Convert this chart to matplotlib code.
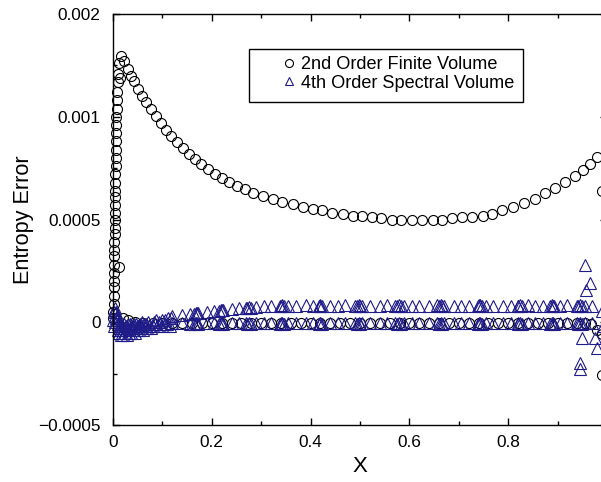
import matplotlib
matplotlib.use('Agg')
import matplotlib.pyplot as plt
import matplotlib.patches as patches
from matplotlib.ticker import MultipleLocator, FixedLocator, FixedFormatter

plt.rcParams['font.family'] = ['Liberation Sans', 'DejaVu Sans']

# 2nd order finite volume: column at x~0, main curve, row near zero, edge points
fv_col_x = [0.001, 0.001, 0.002, 0.002, 0.002, 0.002, 0.003, 0.003, 0.003, 0.003, 0.003,
            0.004, 0.004, 0.004, 0.004, 0.004, 0.005, 0.005, 0.005, 0.005, 0.006, 0.006,
            0.006, 0.006, 0.007, 0.007, 0.007, 0.008, 0.008, 0.009, 0.010, 0.011, 0.013,
            0.015, 0.013]
fv_col_y = [0.00002, 0.00005, 0.00009, 0.00013, 0.00017, 0.00020, 0.00024, 0.00028, 0.00032,
            0.00035, 0.00039, 0.00043, 0.00046, 0.00050, 0.00053, 0.00057, 0.00061, 0.00064,
            0.00068, 0.00072, 0.00076, 0.00080, 0.00084, 0.00088, 0.00092, 0.00096, 0.00100,
            0.00104, 0.00108, 0.00112, 0.00117, 0.00121, 0.00126, 0.00119, 0.00027]

fv_x = [0.016, 0.022, 0.030, 0.036, 0.042, 0.051, 0.059, 0.067, 0.077, 0.087, 0.097, 0.107,
        0.117, 0.129, 0.141, 0.154, 0.166, 0.178, 0.192, 0.206, 0.220, 0.234, 0.251, 0.267,
        0.283, 0.303, 0.323, 0.343, 0.364, 0.384, 0.404, 0.424, 0.444, 0.465, 0.485, 0.505,
        0.525, 0.543, 0.564, 0.584, 0.606, 0.626, 0.647, 0.667, 0.687, 0.707, 0.727, 0.748,
        0.768, 0.788, 0.810, 0.832, 0.855, 0.875, 0.895, 0.915, 0.935, 0.952, 0.966, 0.980]
fv_y = [0.001296, 0.001272, 0.001233, 0.001199, 0.001175, 0.001136, 0.001102, 0.001073,
        0.001039, 0.001005, 0.000971, 0.000937, 0.000908, 0.000879, 0.000849, 0.000820,
        0.000796, 0.000772, 0.000748, 0.000723, 0.000704, 0.000684, 0.000665, 0.000646,
        0.000631, 0.000616, 0.000602, 0.000587, 0.000573, 0.000563, 0.000553, 0.000544,
        0.000534, 0.000529, 0.000519, 0.000515, 0.000510, 0.000505, 0.000500, 0.000500,
        0.000500, 0.000500, 0.000500, 0.000500, 0.000505, 0.000510, 0.000510, 0.000519,
        0.000529, 0.000544, 0.000563, 0.000578, 0.000602, 0.000631, 0.000655, 0.000684,
        0.000714, 0.000743, 0.000772, 0.000806]

fv0_x = [0.02, 0.03, 0.045, 0.06, 0.08, 0.10, 0.12, 0.14, 0.16, 0.18, 0.20, 0.22, 0.24, 0.26,
         0.28, 0.30, 0.32, 0.34, 0.36, 0.38, 0.40, 0.42, 0.44, 0.46, 0.48, 0.50, 0.52, 0.54,
         0.56, 0.58, 0.60, 0.62, 0.64, 0.66, 0.68, 0.70, 0.72, 0.74, 0.76, 0.78, 0.80, 0.82,
         0.84, 0.86, 0.88, 0.90, 0.92, 0.94, 0.955, 0.967, 0.980, 0.990, 0.990, 0.990]
fv0_y = [0.00002, 0.00001, 0.0, -0.000005, -0.000003, -0.000006, -0.000004, -0.000005,
         -0.000003, -0.000006, -0.000004, -0.000005, -0.000006, -0.000004, -0.000005,
         -0.000003, -0.000006, -0.000005, -0.000004, -0.000006, -0.000005, -0.000004,
         -0.000006, -0.000005, -0.000003, -0.000005, -0.000006, -0.000004, -0.000005,
         -0.000006, -0.000004, -0.000005, -0.000003, -0.000006, -0.000005, -0.000004,
         -0.000006, -0.000005, -0.000004, -0.000005, -0.000006, -0.000004, -0.000005,
         -0.000003, -0.000006, -0.000005, -0.000004, -0.000005, -0.000006, -0.000010,
         -0.000039, 0.00064, -0.000055, -0.000257]

# 4th order spectral volume
sv_hi_x = [0.12, 0.14, 0.155, 0.17, 0.19, 0.205, 0.22, 0.24, 0.255, 0.27, 0.29, 0.305, 0.32,
           0.34, 0.355, 0.37, 0.39, 0.405, 0.42, 0.44, 0.455, 0.47, 0.49, 0.505, 0.52, 0.54,
           0.555, 0.57, 0.59, 0.605, 0.62, 0.64, 0.655, 0.67, 0.69, 0.705, 0.72, 0.74, 0.755,
           0.77, 0.79, 0.805, 0.82, 0.84, 0.855, 0.87, 0.89, 0.905, 0.92, 0.94, 0.955, 0.97]
sv_hi_y = [0.000030, 0.000035, 0.000040, 0.000045, 0.000050, 0.000055, 0.000060, 0.000064,
           0.000068, 0.000071, 0.000074, 0.000077, 0.000079,
           0.000080, 0.000081, 0.000080, 0.000082, 0.000080, 0.000081, 0.000080, 0.000081,
           0.000082, 0.000080, 0.000081, 0.000080, 0.000081, 0.000082, 0.000080, 0.000081,
           0.000080, 0.000081, 0.000080, 0.000082, 0.000081, 0.000080, 0.000081, 0.000080,
           0.000082, 0.000081, 0.000080, 0.000081, 0.000080, 0.000081, 0.000082, 0.000080,
           0.000081, 0.000080, 0.000081, 0.000082, 0.000080, 0.000081, 0.000080]

sv_lo_x = [0.105, 0.12, 0.14, 0.155, 0.17, 0.19, 0.205, 0.22, 0.24, 0.255, 0.27, 0.29, 0.305,
           0.32, 0.34, 0.355, 0.37, 0.39, 0.405, 0.42, 0.44, 0.455, 0.47, 0.49, 0.505, 0.52,
           0.54, 0.555, 0.57, 0.59, 0.605, 0.62, 0.64, 0.655, 0.67, 0.69, 0.705, 0.72, 0.74,
           0.755, 0.77, 0.79, 0.805, 0.82, 0.84, 0.855, 0.87, 0.89, 0.905, 0.92, 0.94, 0.955,
           0.97]
sv_lo_y = [-0.000008, -0.000006, -0.000004, -0.000007, -0.000003, -0.000005, -0.000002,
           -0.000006, -0.000004, -0.000003, -0.000005, -0.000002, -0.000004, -0.000006,
           -0.000003, -0.000005, -0.000002, -0.000004, -0.000006, -0.000003, -0.000005,
           -0.000002, -0.000004, -0.000006, -0.000003, -0.000005, -0.000002, -0.000004,
           -0.000006, -0.000003, -0.000005, -0.000002, -0.000004, -0.000006, -0.000003,
           -0.000005, -0.000002, -0.000004, -0.000006, -0.000003, -0.000005, -0.000002,
           -0.000004, -0.000006, -0.000003, -0.000005, -0.000002, -0.000004, -0.000006,
           -0.000003, -0.000005, -0.000002, -0.000004]

# overlapping clusters along both rows
sv_cl_x = [0.164, 0.168, 0.172, 0.214, 0.218, 0.222, 0.271, 0.275, 0.279, 0.339, 0.343, 0.347,
           0.416, 0.420, 0.424, 0.493, 0.497, 0.501, 0.574, 0.578, 0.582, 0.659, 0.663, 0.667,
           0.739, 0.743, 0.747, 0.820, 0.824, 0.828, 0.885, 0.889, 0.893, 0.941, 0.945, 0.949]
sv_clhi_y = [0.000042, 0.000047, 0.000043, 0.000057, 0.000062, 0.000058, 0.000069, 0.000074,
             0.000070, 0.000077, 0.000082, 0.000078, 0.000078, 0.000083, 0.000079, 0.000078,
             0.000083, 0.000079, 0.000078, 0.000083, 0.000079, 0.000078, 0.000083, 0.000079,
             0.000078, 0.000083, 0.000079, 0.000078, 0.000083, 0.000079, 0.000078, 0.000083,
             0.000079, 0.000078, 0.000083, 0.000079]
sv_cllo_y = [-0.000008, -0.000003, -0.000007, -0.000008, -0.000003, -0.000007, -0.000008,
             -0.000003, -0.000007, -0.000008, -0.000003, -0.000007, -0.000008, -0.000003,
             -0.000007, -0.000008, -0.000003, -0.000007, -0.000008, -0.000003, -0.000007,
             -0.000008, -0.000003, -0.000007, -0.000008, -0.000003, -0.000007, -0.000008,
             -0.000003, -0.000007, -0.000008, -0.000003, -0.000007, -0.000008, -0.000003,
             -0.000007]

# near x = 0 and near x = 1
sv_left_x = [0.000, 0.002, 0.004, 0.006, 0.008, 0.010,
             0.003, 0.005, 0.007, 0.009, 0.011, 0.013,
             0.012, 0.016, 0.020, 0.024, 0.028, 0.032, 0.036, 0.040, 0.044, 0.048, 0.052,
             0.056, 0.060, 0.064, 0.068, 0.072, 0.076,
             0.014, 0.018, 0.022, 0.026, 0.030, 0.034, 0.038, 0.042, 0.046, 0.050, 0.054,
             0.058, 0.062, 0.066, 0.070,
             0.080, 0.085, 0.090, 0.095, 0.100, 0.105, 0.110, 0.115,
             0.082, 0.088, 0.094, 0.100, 0.106, 0.112, 0.118,
             0.010, 0.015, 0.019, 0.023, 0.027, 0.031, 0.035, 0.039, 0.043, 0.047, 0.051,
             0.055, 0.059]
sv_left_y = [0.00001, 0.00005, 0.00007, 0.00005, 0.00003, 0.00002,
             -0.00002, 0.0, 0.00002, 0.00001, -0.00001, -0.00003,
             -0.00005, -0.00006, -0.00006, -0.00005, -0.00006, -0.00005, -0.00005, -0.00004,
             -0.00005, -0.00004, -0.00004, -0.00003, -0.00004, -0.00003, -0.00003, -0.00002,
             -0.00003,
             -0.00001, -0.00002, -0.00001, -0.00002, -0.00001, -0.00001, -0.00002, -0.00001,
             -0.00001, -0.00002, -0.00001, 0.0, -0.00001, -0.00001, 0.0,
             -0.00002, -0.00001, -0.00002, -0.00001, -0.00002, -0.00001, -0.00001, -0.00002,
             0.0, 0.00001, 0.0, 0.00001, 0.00001, 0.00002, 0.00002,
             -0.00004, -0.00003, -0.00004, -0.00003, -0.00004, -0.00003, -0.00003, -0.00003,
             -0.00002, -0.00003, -0.00002, -0.00002, -0.00002]
sv_right_x = [0.956, 0.966, 0.958, 0.990, 0.949, 0.976, 0.980, 0.945, 0.945, 0.992]
sv_right_y = [0.000277, 0.000189, 0.000155, 0.000055, -0.000078, -0.000078, -0.000126,
              -0.000199, -0.000228, -0.00002]

yticks = [-0.0005, 0, 0.0005, 0.001, 0.0015]
ytick_labels = ['\u22120.0005', '0', '0.0005', '0.001', '0.002']
xticks = [0, 0.2, 0.4, 0.6, 0.8, 1.0]
xtick_labels = ['0', '0.2', '0.4', '0.6', '0.8', '']

navy = '#1f1b88'

fig = plt.figure(figsize=(6.01, 4.82), dpi=100)
# right spine sits just past the image edge, as in the source
ax = fig.add_axes([113/601, (482-425)/482, 494/601, 411/482])

ax.plot(fv_col_x + fv_x + fv0_x, fv_col_y + fv_y + fv0_y, 'o', ms=7.2, mfc='none',
        mec='black', mew=0.8, label='2nd Order Finite Volume', clip_on=False)
ax.plot(sv_left_x + sv_lo_x + sv_hi_x + sv_cl_x + sv_cl_x + sv_right_x,
        sv_left_y + sv_lo_y + sv_hi_y + sv_clhi_y + sv_cllo_y + sv_right_y,
        '^', ms=8, mfc='none', mec=navy, mew=0.8, label='4th Order Spectral Volume',
        clip_on=False)

ax.set_xlim(0, 1)
ax.set_ylim(-0.0005, 0.0015)
ax.xaxis.set_major_locator(FixedLocator(xticks))
ax.xaxis.set_major_formatter(FixedFormatter(xtick_labels))
ax.xaxis.set_minor_locator(MultipleLocator(0.1))
ax.yaxis.set_major_locator(FixedLocator(yticks))
ax.yaxis.set_major_formatter(FixedFormatter(ytick_labels))
ax.yaxis.set_minor_locator(MultipleLocator(0.00025))
ax.tick_params(which='both', direction='in', top=True, right=True, width=1.0,
               labelsize=12.4)
ax.tick_params(which='major', length=5)
ax.tick_params(which='minor', length=3)
ax.tick_params(axis='y', pad=9)
ax.tick_params(axis='x', pad=7)
for s in ax.spines.values():
    s.set_linewidth(1.0)

ax.set_xlabel('X', fontsize=16)
ax.set_ylabel('Entropy Error', fontsize=15.6)
ax.xaxis.set_label_coords(0.5, -0.075)
ax.yaxis.set_label_coords(-0.16, 0.5)

# legend box
frame = patches.Rectangle((249/601, (482-102)/482), 274/601, 53/482, transform=fig.transFigure,
                          facecolor='white', edgecolor='black', lw=1.0, zorder=5,
                          clip_on=False)
ax.add_patch(frame)
leg = ax.legend(loc='upper left', bbox_to_anchor=(284/601, (482-56)/482),
                bbox_transform=fig.transFigure, frameon=False, fontsize=13.1,
                handlelength=0.6, handletextpad=0.35, borderpad=0, borderaxespad=0,
                labelspacing=0.1, markerscale=0.8)
leg.set_zorder(6)

fig.savefig('out.png', dpi=100)
